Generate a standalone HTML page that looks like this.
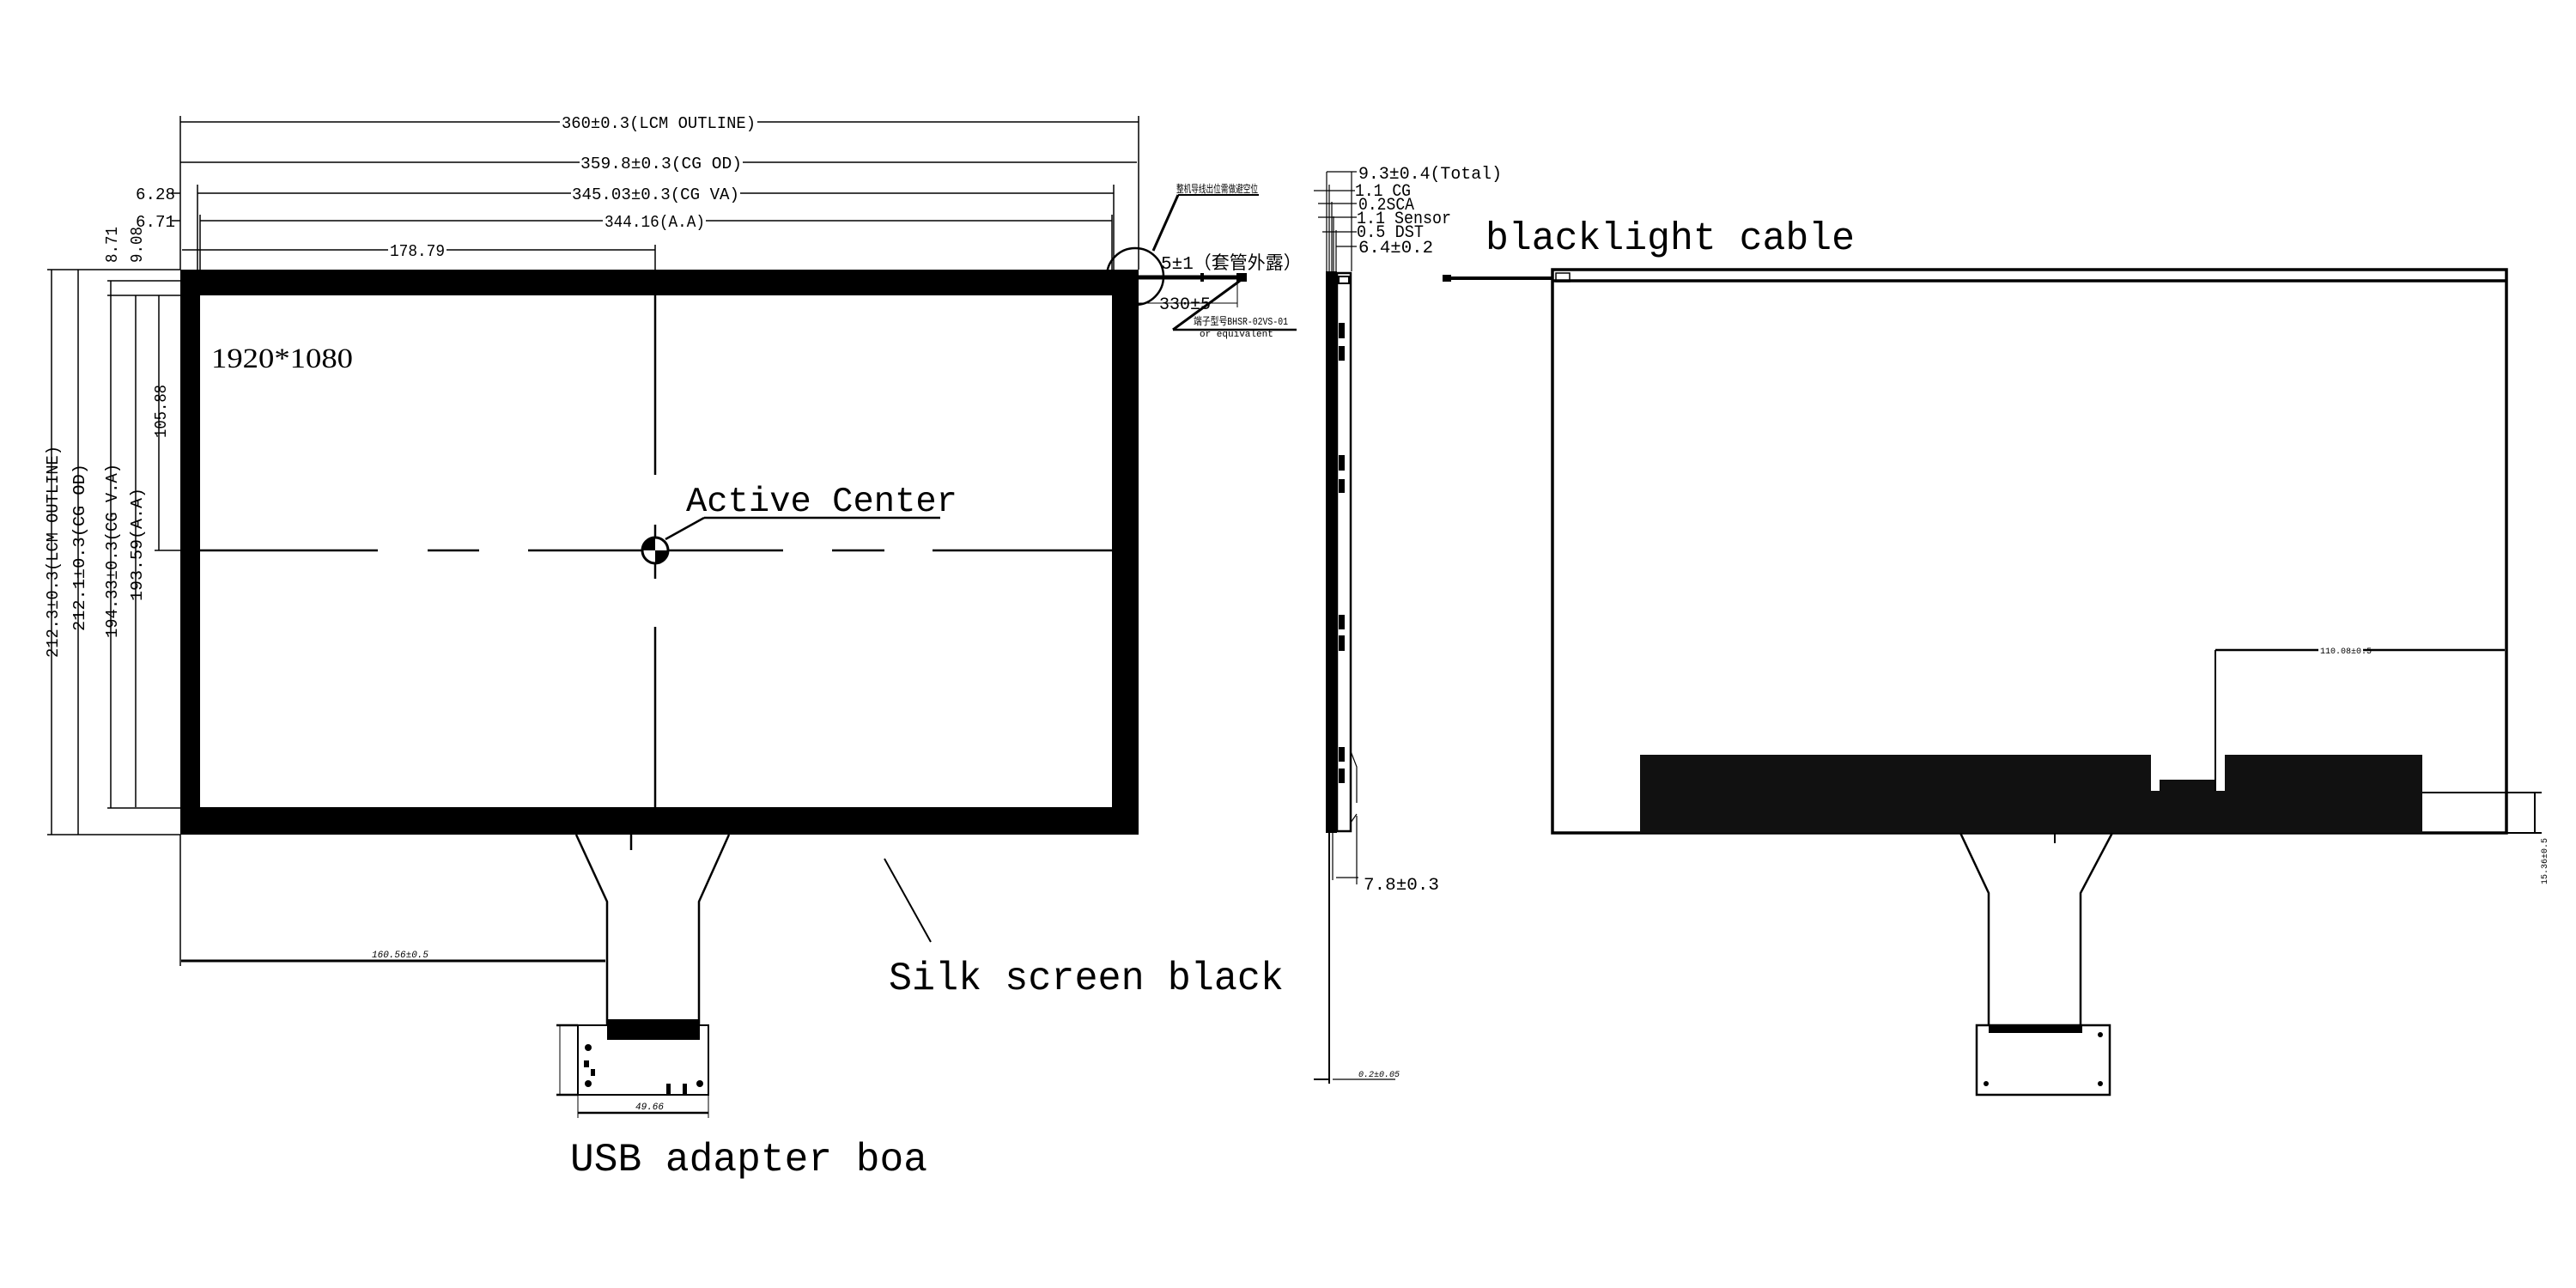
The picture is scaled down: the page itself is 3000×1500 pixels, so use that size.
<!DOCTYPE html>
<html><head><meta charset="utf-8"><style>
html,body{margin:0;padding:0;background:#fff;}
svg{display:block;}
text{font-family:"Liberation Mono","Noto Sans CJK SC",monospace;fill:#000;}
</style></head><body>
<svg width="3000" height="1500" viewBox="0 0 3000 1500" xmlns="http://www.w3.org/2000/svg">
<g stroke="#000" fill="none" stroke-width="1.5">
<line x1="210" y1="142" x2="652" y2="142"/><line x1="882" y1="142" x2="1326" y2="142"/>
<line x1="210" y1="189" x2="675" y2="189"/><line x1="865" y1="189" x2="1324" y2="189"/>
<line x1="230" y1="225" x2="665" y2="225"/><line x1="862" y1="225" x2="1297" y2="225"/>
<line x1="233" y1="257" x2="702" y2="257"/><line x1="822" y1="257" x2="1295" y2="257"/>
<line x1="212" y1="291" x2="452" y2="291"/><line x1="520" y1="291" x2="763" y2="291"/>
<line x1="210" y1="135" x2="210" y2="314"/><line x1="1326" y1="135" x2="1326" y2="314"/>
<line x1="230" y1="215" x2="230" y2="314"/><line x1="233" y1="250" x2="233" y2="344"/>
<line x1="1297" y1="215" x2="1297" y2="344"/><line x1="1295" y1="250" x2="1295" y2="344"/>
<line x1="763" y1="285" x2="763" y2="344"/>
<line x1="200" y1="225" x2="210" y2="225"/><line x1="200" y1="257" x2="210" y2="257"/>
<line x1="60" y1="314" x2="60" y2="972"/><line x1="91" y1="314" x2="91" y2="972"/>
<line x1="129" y1="327" x2="129" y2="941"/><line x1="158" y1="344" x2="158" y2="940"/>
<line x1="185" y1="344" x2="185" y2="641"/>
<line x1="55" y1="314" x2="210" y2="314"/><line x1="55" y1="972" x2="210" y2="972"/>
<line x1="125" y1="327" x2="210" y2="327"/><line x1="125" y1="344" x2="233" y2="344"/>
<line x1="125" y1="941" x2="233" y2="941"/><line x1="180" y1="641" x2="233" y2="641"/>
<line x1="210" y1="972" x2="210" y2="1125"/>
</g>
<g font-size="19">
<text x="654" y="149" textLength="226" lengthAdjust="spacingAndGlyphs">360±0.3(LCM OUTLINE)</text>
<text x="676" y="196" textLength="188" lengthAdjust="spacingAndGlyphs">359.8±0.3(CG OD)</text>
<text x="666" y="232" textLength="195" lengthAdjust="spacingAndGlyphs">345.03±0.3(CG VA)</text>
<text x="704" y="264" textLength="117" lengthAdjust="spacingAndGlyphs">344.16(A.A)</text>
<text x="454" y="298" textLength="64" lengthAdjust="spacingAndGlyphs">178.79</text>
<text x="158" y="232" textLength="46" lengthAdjust="spacingAndGlyphs">6.28</text>
<text x="158" y="264" textLength="46" lengthAdjust="spacingAndGlyphs">6.71</text>
<text transform="translate(136,306) rotate(-90)" textLength="42" lengthAdjust="spacingAndGlyphs">8.71</text>
<text transform="translate(165,306) rotate(-90)" textLength="42" lengthAdjust="spacingAndGlyphs">9.08</text>
<text transform="translate(67,766) rotate(-90)" textLength="247" lengthAdjust="spacingAndGlyphs">212.3±0.3(LCM OUTLINE)</text>
<text transform="translate(98,735) rotate(-90)" textLength="195" lengthAdjust="spacingAndGlyphs">212.1±0.3(CG OD)</text>
<text transform="translate(136,743) rotate(-90)" textLength="203" lengthAdjust="spacingAndGlyphs">194.33±0.3(CG V.A)</text>
<text transform="translate(165,700) rotate(-90)" textLength="132" lengthAdjust="spacingAndGlyphs">193.59(A.A)</text>
<text transform="translate(193,510) rotate(-90)" textLength="62" lengthAdjust="spacingAndGlyphs">105.88</text>
</g>
<rect x="210" y="314" width="1116" height="658" fill="#000"/>
<rect x="233" y="344" width="1062" height="596" fill="#fff"/>
<g stroke="#000" stroke-width="2.5">
<line x1="233" y1="641" x2="440" y2="641"/><line x1="498" y1="641" x2="558" y2="641"/>
<line x1="615" y1="641" x2="912" y2="641"/><line x1="969" y1="641" x2="1030" y2="641"/>
<line x1="1086" y1="641" x2="1295" y2="641"/>
<line x1="763" y1="344" x2="763" y2="553"/><line x1="763" y1="611" x2="763" y2="674"/>
<line x1="763" y1="730" x2="763" y2="940"/>
<line x1="775" y1="628" x2="820" y2="603"/><line x1="820" y1="603" x2="1095" y2="603"/>
</g>
<circle cx="763" cy="641" r="15" fill="#fff" stroke="#000" stroke-width="3"/>
<path d="M763 626 A15 15 0 0 0 748 641 L763 641 Z M763 641 L778 641 A15 15 0 0 1 763 656 Z" fill="#000"/>
<text x="799" y="595" font-size="41" textLength="316" lengthAdjust="spacingAndGlyphs">Active Center</text>
<text x="246" y="428" font-size="33" textLength="165" lengthAdjust="spacingAndGlyphs" style="font-family:'Liberation Serif',serif">1920*1080</text>
<g stroke="#000" fill="none">
<line x1="1326" y1="323" x2="1448" y2="323" stroke-width="5"/>
<circle cx="1322" cy="322" r="33" stroke-width="2.5"/>
<line x1="1343" y1="292" x2="1372" y2="227" stroke-width="3"/>
<line x1="1372" y1="227" x2="1466" y2="227" stroke-width="2"/>
<line x1="1366" y1="384" x2="1444" y2="327" stroke-width="3"/>
<line x1="1366" y1="384" x2="1510" y2="384" stroke-width="2.5"/>
<line x1="1326" y1="353" x2="1441" y2="353" stroke-width="1"/>
<line x1="1441" y1="327" x2="1441" y2="358" stroke-width="1"/>
</g>
<rect x="1440" y="318" width="12" height="10" fill="#000"/>
<rect x="1398" y="318" width="4" height="10" fill="#000"/>
<text x="1352" y="313" font-size="21">5±1（套管外露）</text>
<text x="1350" y="360" font-size="20">330±5</text>
<text x="1370" y="224" font-size="12" textLength="95" lengthAdjust="spacingAndGlyphs">整机导线出位需做避空位</text>
<text x="1390" y="378" font-size="12" textLength="110" lengthAdjust="spacingAndGlyphs">端子型号BHSR-02VS-01</text>
<text x="1397" y="392" font-size="11">or equivalent</text>
<g stroke="#000" fill="none" stroke-width="2.5">
<path d="M671 972 L707 1050 L707 1193"/><path d="M849 972 L814 1050 L814 1193"/>
<path d="M735 972 L735 990"/>
<rect x="673" y="1194" width="152" height="81" stroke-width="2"/>
<line x1="1030" y1="1000" x2="1084" y2="1097" stroke-width="2"/>
<line x1="211" y1="1119" x2="705" y2="1119" stroke-width="3"/>
<line x1="673" y1="1296" x2="825" y2="1296" stroke-width="2.5"/>
<line x1="673" y1="1275" x2="673" y2="1302" stroke-width="1"/>
<line x1="825" y1="1275" x2="825" y2="1302" stroke-width="1"/>
<line x1="648" y1="1194" x2="673" y2="1194"/><line x1="648" y1="1275" x2="673" y2="1275"/>
<line x1="652" y1="1194" x2="652" y2="1275" stroke-width="1"/>
</g>
<rect x="707" y="1187" width="108" height="24" fill="#000"/>
<circle cx="685" cy="1220" r="4" fill="#000"/><circle cx="685" cy="1262" r="4" fill="#000"/><circle cx="815" cy="1262" r="4" fill="#000"/>
<rect x="776" y="1262" width="5" height="12" fill="#000"/><rect x="795" y="1262" width="5" height="12" fill="#000"/>
<rect x="680" y="1235" width="6" height="8" fill="#000"/><rect x="688" y="1245" width="5" height="8" fill="#000"/>
<text x="433" y="1115" font-size="11" font-style="italic">160.56±0.5</text>
<text x="740" y="1292" font-size="11" font-style="italic">49.66</text>
<text x="1035" y="1152" font-size="46" textLength="460" lengthAdjust="spacingAndGlyphs">Silk screen black</text>
<text x="664" y="1363" font-size="46" textLength="416" lengthAdjust="spacingAndGlyphs">USB adapter boa</text>
<rect x="1544" y="316" width="13" height="654" fill="#000"/>
<rect x="1557" y="318" width="16" height="650" fill="none" stroke="#000" stroke-width="2.5"/>
<rect x="1559" y="322" width="12" height="8" fill="none" stroke="#000" stroke-width="2"/>
<g fill="#000">
<rect x="1559" y="376" width="7" height="18"/><rect x="1559" y="403" width="7" height="17"/>
<rect x="1559" y="530" width="7" height="18"/><rect x="1559" y="558" width="7" height="16"/>
<rect x="1559" y="716" width="7" height="17"/><rect x="1559" y="740" width="7" height="18"/>
<rect x="1559" y="870" width="7" height="17"/><rect x="1559" y="895" width="7" height="17"/>
</g>
<g stroke="#000" fill="none" stroke-width="1.2">
<path d="M1573 875 L1580 893 L1580 935"/><path d="M1573 958 L1580 948"/>
<line x1="1548" y1="970" x2="1548" y2="1262" stroke-width="2"/>
<line x1="1580" y1="950" x2="1580" y2="1030"/><line x1="1552" y1="970" x2="1552" y2="1025"/>
<line x1="1556" y1="1022" x2="1582" y2="1022"/>
<line x1="1530" y1="1257" x2="1548" y2="1257" stroke-width="2"/>
<line x1="1552" y1="1257" x2="1625" y2="1257"/>
<line x1="1545" y1="200" x2="1545" y2="316"/><line x1="1574" y1="200" x2="1574" y2="316"/>
<line x1="1548" y1="215" x2="1548" y2="316"/><line x1="1551" y1="235" x2="1551" y2="316"/>
<line x1="1553" y1="252" x2="1553" y2="316"/><line x1="1556" y1="268" x2="1556" y2="316"/>
<line x1="1545" y1="200" x2="1580" y2="200"/>
<line x1="1530" y1="222" x2="1578" y2="222"/><line x1="1535" y1="237" x2="1580" y2="237"/>
<line x1="1535" y1="253" x2="1580" y2="253"/><line x1="1540" y1="270" x2="1580" y2="270"/>
<line x1="1556" y1="287" x2="1580" y2="287"/>
</g>
<g font-size="20">
<text x="1582" y="208" textLength="167" lengthAdjust="spacingAndGlyphs">9.3±0.4(Total)</text>
<text x="1578" y="228" textLength="65" lengthAdjust="spacingAndGlyphs">1.1 CG</text>
<text x="1582" y="244" textLength="65" lengthAdjust="spacingAndGlyphs">0.2SCA</text>
<text x="1580" y="260" textLength="110" lengthAdjust="spacingAndGlyphs">1.1 Sensor</text>
<text x="1580" y="276" textLength="78" lengthAdjust="spacingAndGlyphs">0.5 DST</text>
<text x="1582" y="294" textLength="87" lengthAdjust="spacingAndGlyphs">6.4±0.2</text>
<text x="1588" y="1036" textLength="88" lengthAdjust="spacingAndGlyphs">7.8±0.3</text>
</g>
<text x="1582" y="1254" font-size="10" font-style="italic">0.2±0.05</text>
<text x="1730" y="290" font-size="45" textLength="430" lengthAdjust="spacingAndGlyphs">blacklight cable</text>
<line x1="1690" y1="324" x2="1808" y2="324" stroke="#000" stroke-width="4"/>
<rect x="1680" y="320" width="10" height="8" fill="#000"/>
<rect x="1808" y="314" width="1111" height="656" fill="none" stroke="#000" stroke-width="3.5"/>
<line x1="1808" y1="327" x2="2919" y2="327" stroke="#000" stroke-width="3.5"/>
<rect x="1812" y="318" width="16" height="10" fill="none" stroke="#000" stroke-width="1.5"/>
<path d="M1910 879 L2505 879 L2505 921 L2591 921 L2591 879 L2821 879 L2821 970 L1910 970 Z" fill="#111"/>
<rect x="2515" y="908" width="66" height="13" fill="#111"/>
<g stroke="#000" fill="none">
<line x1="2580" y1="757" x2="2917" y2="757" stroke-width="2.5"/>
<line x1="2580" y1="757" x2="2580" y2="921" stroke-width="2"/>
<line x1="2821" y1="923" x2="2960" y2="923" stroke-width="2"/>
<line x1="2919" y1="970" x2="2960" y2="970" stroke-width="2"/>
<line x1="2952" y1="923" x2="2952" y2="970" stroke-width="2"/>
<path d="M2283 970 L2316 1040 L2316 1194" stroke-width="2.5"/>
<path d="M2460 970 L2423 1040 L2423 1194" stroke-width="2.5"/>
<path d="M2393 970 L2393 982" stroke-width="2"/>
<rect x="2302" y="1194" width="155" height="81" stroke-width="2.5"/>
</g>
<rect x="2316" y="1194" width="109" height="9" fill="#000"/>
<circle cx="2446" cy="1205" r="3" fill="#000"/><circle cx="2313" cy="1262" r="3" fill="#000"/><circle cx="2446" cy="1262" r="3" fill="#000"/>
<rect x="2700" y="751" width="52" height="12" fill="#fff"/>
<text x="2702" y="761" font-size="10">110.08±0.5</text>
<text transform="translate(2966,1030) rotate(-90)" font-size="10">15.36±0.5</text>
</svg>
</body></html>
